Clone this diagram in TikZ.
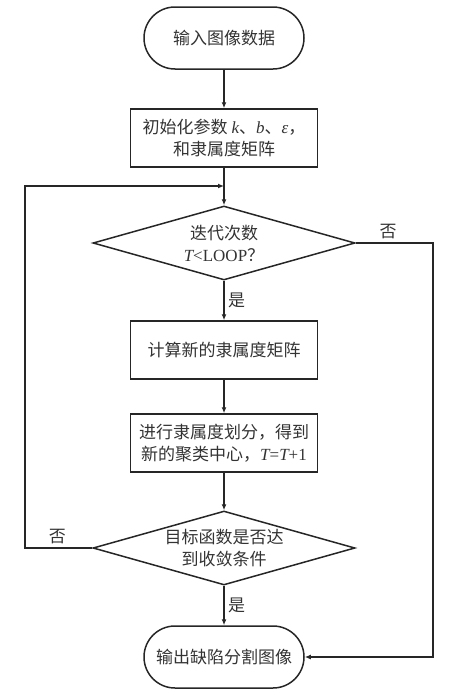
\documentclass[tikz,border=0pt]{standalone}
\usepackage{fontspec}
\setmainfont{Noto Sans CJK SC}
\newfontfamily\latinfont{Liberation Serif}
\usetikzlibrary{shapes.geometric,arrows.meta,positioning}
\newcommand{\ivar}[1]{{\latinfont\itshape #1}}
\newcommand{\rmtxt}[1]{{\latinfont #1}}

\begin{document}
\begin{tikzpicture}[x=1pt,y=-1pt,line width=1.5pt,draw=black!85,text=black!80,
	font=\fontsize{17}{22}\selectfont,
	>={Latex[length=6pt,width=5pt]},
	terminal/.style={draw,rectangle,rounded corners=31pt,minimum width=160pt,minimum height=62pt},
	process/.style={draw,rectangle,align=center,minimum width=187pt,minimum height=58pt,inner sep=2pt},
	decision/.style={draw,diamond,align=center,aspect=3.54,inner sep=0pt,minimum width=262pt,minimum height=74pt}]
	\useasboundingbox (0,0) rectangle (450,696);
	% nodes
	\node[terminal] (start) at (224,38) {输入图像数据};
	\node[process] (init) at (224,138) {初始化参数 \ivar{k}、\ivar{b}、\ivar{ε}，\\和隶属度矩阵};
	\node[decision] (iter) at (224,243) {迭代次数\\\ivar{T}\rmtxt{<LOOP}？};
	\node[process] (member) at (224,350) {计算新的隶属度矩阵};
	\node[process] (center) at (224,443) {进行隶属度划分，得到\\新的聚类中心，\ivar{T}\rmtxt{=}\ivar{T}\rmtxt{+1}};
	\node[decision] (conv) at (224,548) {目标函数是否达\\到收敛条件};
	\node[terminal] (output) at (224,657) {输出缺陷分割图像};
	\coordinate (merge) at (224,186);
	\coordinate (lcorner) at (25,186);
	\coordinate (rcorner) at (433,243);
	% connectors
	\draw[->] (start) -- (init);
	\draw[->] (init) -- (iter);
	\draw[->] (iter) -- node[right]{是} (member);
	\draw[->] (member) -- (center);
	\draw[->] (center) -- (conv);
	\draw[->] (conv) -- node[right]{是} (output);
	\draw[->] (conv.west) -| node[pos=0.26,above]{否} (lcorner) -- (merge);
	\draw[->] (iter.east) -- node[pos=0.42,above]{否} (rcorner) |- (output.east);
\end{tikzpicture}
\end{document}
